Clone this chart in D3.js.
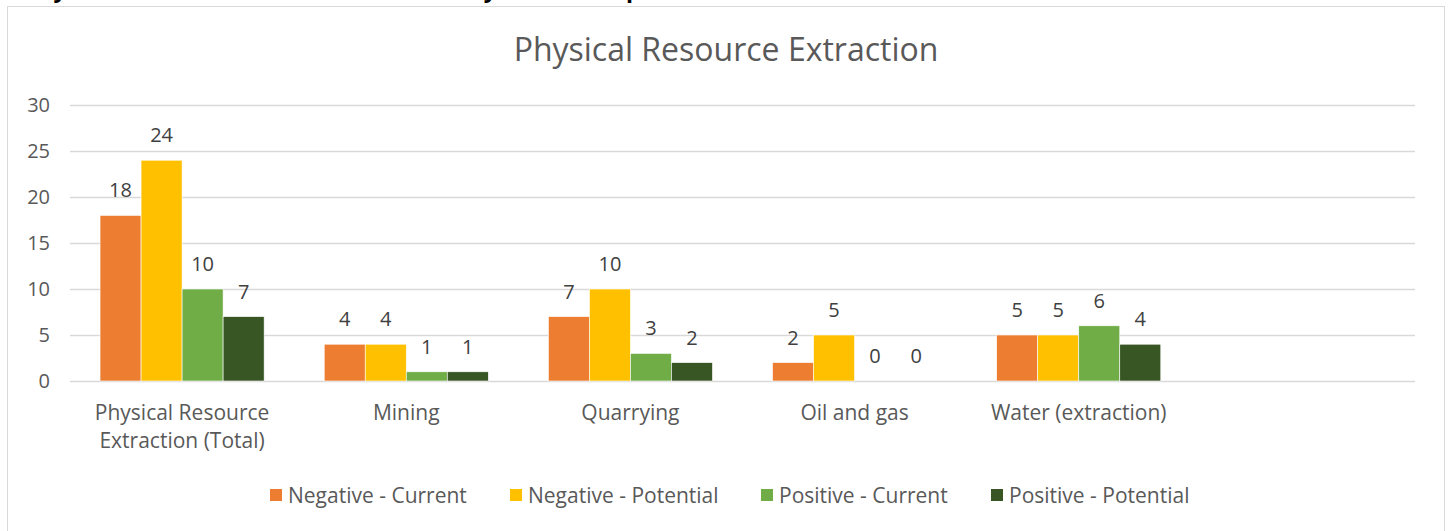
<!DOCTYPE html>
<html>
<head>
<meta charset="utf-8">
<script src="https://cdn.jsdelivr.net/npm/d3@7"></script>
<style>
  html, body { margin: 0; padding: 0; background: #fff; }
  svg { display: block; }
  text { font-family: "Open Sans", Lato, sans-serif; }
</style>
</head>
<body>
<svg id="chart" width="1448" height="531"></svg>
<script>
const pageHeading = "Physical Resource Extraction – Secondary data on impact";
const chartTitle = "Physical Resource Extraction";
const categories = [
  ["Physical Resource", "Extraction (Total)"],
  ["Mining"],
  ["Quarrying"],
  ["Oil and gas"],
  ["Water (extraction)"],
  [""]
];
const seriesNames = ["Negative - Current", "Negative - Potential", "Positive - Current", "Positive - Potential"];
const seriesColors = ["#ED7D31", "#FFC000", "#70AD47", "#375623"];
const negativeCurrent   = [18, 4, 7, 2, 5, null];
const negativePotential = [24, 4, 10, 5, 5, null];
const positiveCurrent   = [10, 1, 3, 0, 6, null];
const positivePotential = [7, 1, 2, 0, 4, null];
const yTicks = [0, 5, 10, 15, 20, 25, 30];

const seriesValues = [negativeCurrent, negativePotential, positiveCurrent, positivePotential];

const svg = d3.select("#chart");

// page heading (cropped by the top edge, as in the reference)
svg.append("text")
  .attr("x", 24).attr("y", -3)
  .attr("font-size", 23).attr("font-weight", "bold")
  .attr("fill", "#000")
  .text(pageHeading);

// chart frame
svg.append("rect")
  .attr("x", 7.5).attr("y", 6.5)
  .attr("width", 1437).attr("height", 540)
  .attr("fill", "#fff")
  .attr("stroke", "#d9d9d9").attr("stroke-width", 1);

const plot = { left: 70, right: 1415, top: 105, bottom: 381 };

const catIdx = categories.map((d, i) => i);
const x0 = d3.scaleBand().domain(catIdx).range([plot.left, plot.right]).paddingInner(0.268).paddingOuter(0.134);
const x1 = d3.scaleBand().domain(seriesNames.map((d, i) => i)).range([0, x0.bandwidth()]);
const y = d3.scaleLinear().domain([0, 30]).range([plot.bottom, plot.top]);

// title
svg.append("text")
  .attr("x", 726).attr("y", 61)
  .attr("text-anchor", "middle")
  .attr("font-size", 32)
  .attr("fill", "#595959")
  .text(chartTitle);

// gridlines
svg.append("g").selectAll("line")
  .data(yTicks)
  .join("line")
  .attr("x1", plot.left).attr("x2", plot.right)
  .attr("y1", d => Math.round(y(d)) + 0.5).attr("y2", d => Math.round(y(d)) + 0.5)
  .attr("stroke", "#d9d9d9").attr("stroke-width", 1.3);

// y axis labels
const yAxis = d3.axisLeft(y).tickValues(yTicks).tickSize(0).tickPadding(0);
const yg = svg.append("g").attr("transform", `translate(${plot.left - 20},0)`).call(yAxis);
yg.select(".domain").remove();
yg.selectAll("text")
  .attr("font-family", "'Open Sans', Lato, sans-serif")
  .attr("font-size", 20).attr("fill", "#595959");

// bars
const groups = svg.append("g").selectAll("g")
  .data(catIdx)
  .join("g")
  .attr("transform", i => `translate(${x0(i)},0)`);

groups.selectAll("rect")
  .data(i => seriesValues.map((s, k) => ({ k, v: s[i] })).filter(d => d.v !== null))
  .join("rect")
  .attr("x", d => x1(d.k))
  .attr("width", x1.bandwidth())
  .attr("y", d => y(d.v))
  .attr("height", d => y(0) - y(d.v))
  .attr("fill", d => seriesColors[d.k])
  .attr("stroke", "#ffffff").attr("stroke-width", 0.6);

// value labels
groups.selectAll("text")
  .data(i => seriesValues.map((s, k) => ({ k, v: s[i] })).filter(d => d.v !== null))
  .join("text")
  .attr("x", d => x1(d.k) + x1.bandwidth() / 2)
  .attr("y", d => y(d.v) - 18)
  .attr("text-anchor", "middle")
  .attr("font-size", 20)
  .attr("fill", "#404040")
  .text(d => d.v);

// category labels
const cg = svg.append("g").selectAll("text")
  .data(catIdx)
  .join("text")
  .attr("x", i => x0(i) + x0.bandwidth() / 2)
  .attr("y", 420)
  .attr("text-anchor", "middle")
  .attr("font-size", 21)
  .attr("fill", "#595959");
cg.selectAll("tspan")
  .data(i => categories[i])
  .join("tspan")
  .attr("x", function() { return d3.select(this.parentNode).attr("x"); })
  .attr("dy", (d, j) => j === 0 ? 0 : 28)
  .text(d => d);

// legend
const legendX = [270, 510, 761, 991];
const lg = svg.append("g").selectAll("g")
  .data(seriesNames)
  .join("g")
  .attr("transform", (d, i) => `translate(${legendX[i]},489)`);
lg.append("rect")
  .attr("width", 12).attr("height", 12)
  .attr("fill", (d, i) => seriesColors[i]);
lg.append("text")
  .attr("x", 18).attr("y", 13.5)
  .attr("font-size", 21)
  .attr("fill", "#595959")
  .text(d => d);
</script>
</body>
</html>
